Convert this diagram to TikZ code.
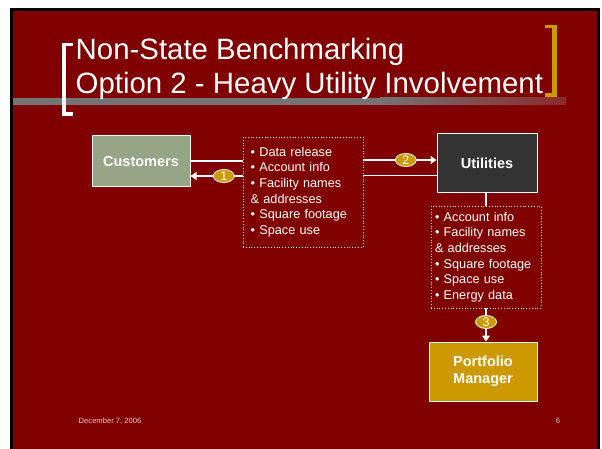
\documentclass[tikz,border=0pt]{standalone}
\usepackage{fontspec}
\setmainfont{Liberation Sans}
\usetikzlibrary{arrows.meta,shapes.geometric}
\definecolor{slidered}{HTML}{800000}
\definecolor{sage}{HTML}{95A585}
\definecolor{darkbox}{HTML}{333333}
\definecolor{goldc}{HTML}{CC9900}
\definecolor{footc}{HTML}{E3C9C9}
\definecolor{barg}{HTML}{747474}
\definecolor{barr}{HTML}{8A2A2A}
\begin{document}
\begin{tikzpicture}[x=1pt,y=-1pt,
  box/.style={draw=white, line width=1pt, text=white, font=\fontsize{14.5}{16.7}\selectfont\bfseries, align=center, inner sep=0pt},
  listbox/.style={draw=white, dotted, line width=0.8pt, text=white, font=\fontsize{12.7}{15.7}\selectfont, align=left, inner ysep=0pt},
  link/.style={draw=white, line width=1.3pt},
  arr/.style={link, -{Triangle[width=8pt,length=6pt]}},
  badge/.style={ellipse, fill=goldc, draw=white, solid, line width=0.8pt, minimum width=21pt, minimum height=13pt, inner sep=0pt, text=white, font=\fontsize{12.5}{12.5}\selectfont},
  titletext/.style={anchor=base west, inner sep=0pt, text=white, font=\fontsize{29.4}{34}\selectfont},
  foot/.style={text=footc, inner sep=0pt, font=\fontsize{7.6}{9}\selectfont}]
\useasboundingbox (0,0) rectangle (602,449);
\fill[white] (0,0) rectangle (602,449);
\fill[black] (10,8) rectangle (600,449);
\fill[slidered] (13,11) rectangle (597,449);
% title bar
\fill[barg] (13,98) rectangle (380,105);
\shade[left color=barg, right color=barr] (380,98) rectangle (566,105);
% white bracket
\fill[white] (62,43) rectangle (66,116);
\fill[white] (62,43) rectangle (73,46);
\fill[white] (62,112.5) rectangle (73,116);
% gold bracket
\fill[goldc] (552,25) rectangle (557,97);
\fill[goldc] (545,25) rectangle (557,28.5);
\fill[goldc] (545,93) rectangle (557,97);
% title
\node[titletext] (t1) at (75.5,60) {Non-State Benchmarking};
\node[titletext] (t2) at (75.5,93.3) {Option 2 - Heavy Utility Involvement};
% boxes
\node[box, fill=sage, minimum width=98pt, minimum height=51pt] (cust) at (141,161.5) {Customers};
\node[listbox, minimum height=110pt, inner xsep=7.7pt, text width=104.6pt] (info1) at (303,192)
  {• Data release\\• Account info\\• Facility names\\\& addresses\\• Square footage\\• Space use};
\node[box, fill=darkbox, minimum width=100pt, minimum height=59pt] (util) at (487,163.5) {Utilities};
\node[listbox, minimum height=102pt, inner xsep=4pt, text width=102pt] (info2) at (486,257)
  {• Account info\\• Facility names\\\& addresses\\• Square footage\\• Space use\\• Energy data};
\node[box, fill=goldc, minimum width=108pt, minimum height=59pt] (pm) at (483,371.5) {Portfolio\\Manager};
% connectors
\coordinate (yA) at (0,161);
\coordinate (yB) at (0,176);
\coordinate (yC) at (0,160);
\coordinate (yD) at (0,175.7);
\draw[link] (cust.east |- yA) -- (info1.west |- yA);
\draw[arr] (info1.west |- yB) -- (cust.east |- yB) node[badge, pos=0.36] (b1) {1};
\draw[arr] (info1.east |- yC) -- (util.west |- yC) node[badge, pos=0.58] (b2) {2};
\draw[link] (info1.east |- yD) -- (util.west |- yD);
\draw[link] (info2.north |- util.south) -- (info2.north);
\draw[arr] (info2.south) -- (info2.south |- pm.north) node[badge, pos=0.41] (b3) {3};
% footer
\node[foot] (date) at (110,421.5) {December 7, 2006};
\node[foot] (page) at (558,421) {6};
\end{tikzpicture}
\end{document}
